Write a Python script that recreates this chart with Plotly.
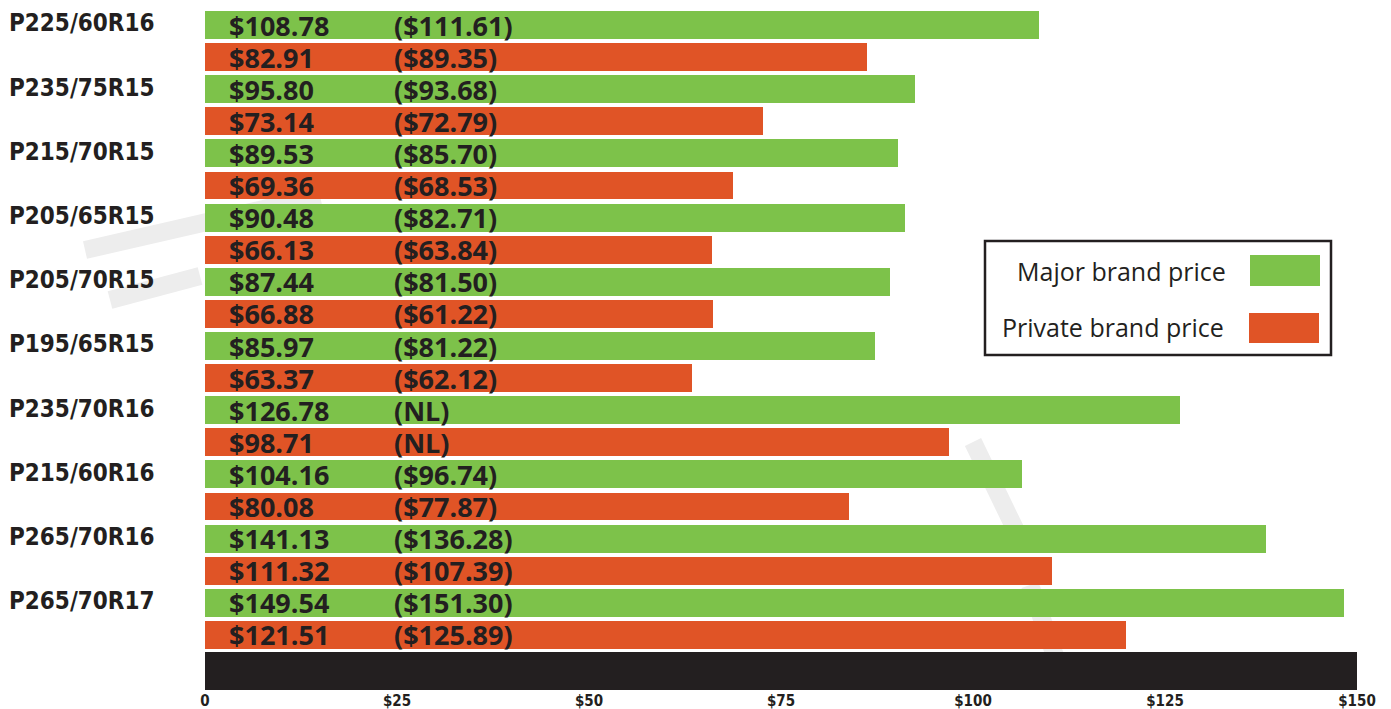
import plotly.graph_objects as go

# tyre sizes, top to bottom
sizes = ["P225/60R16", "P235/75R15", "P215/70R15", "P205/65R15", "P205/70R15",
         "P195/65R15", "P235/70R16", "P215/60R16", "P265/70R16", "P265/70R17"]

# printed prices (current) and previous prices in brackets
major_price = ["$108.78", "$95.80", "$89.53", "$90.48", "$87.44",
               "$85.97", "$126.78", "$104.16", "$141.13", "$149.54"]
major_prev = ["($111.61)", "($93.68)", "($85.70)", "($82.71)", "($81.50)",
              "($81.22)", "(NL)", "($96.74)", "($136.28)", "($151.30)"]
private_price = ["$82.91", "$73.14", "$69.36", "$66.13", "$66.88",
                 "$63.37", "$98.71", "$80.08", "$111.32", "$121.51"]
private_prev = ["($89.35)", "($72.79)", "($68.53)", "($63.84)", "($61.22)",
                "($62.12)", "(NL)", "($77.87)", "($107.39)", "($125.89)"]

# bar lengths as drawn in the picture (dollars)
major_bar = [108.6, 92.5, 90.2, 91.2, 89.2, 87.3, 127.0, 106.4, 138.2, 148.3]
private_bar = [86.2, 72.6, 68.7, 66.0, 66.2, 63.4, 96.9, 83.9, 110.3, 119.9]

tick_vals = [0, 25, 50, 75, 100, 125, 150]
tick_text = ["0", "$25", "$50", "$75", "$100", "$125", "$150"]
base_bar = 150

GREEN = "#7dc24a"
RED = "#e05426"
DARK = "#231f20"
BOLD = "Open Sans"
COND = "DejaVu Sans Condensed, DejaVu Sans, sans-serif"

# the page body adds an 8px offset, so the figure is 8px smaller
OFF = 8
W, H = 1391 - OFF, 709 - OFF
ML, MR, MT, MB = 205 - OFF, 34, 0, 19
PW, PH = W - ML - MR, H - MT - MB


def px_x(p):
    return (p - OFF - ML) / PW


def px_y(p):
    return (PH + MT - (p - OFF)) / PH


n = len(sizes)
y_major = [2 * i for i in range(n)]
y_private = [2 * i + 1 for i in range(n)]
y_base = 2 * n + 0.12

fig = go.Figure()

fig.add_trace(go.Bar(
    x=major_bar, y=y_major, orientation="h", width=0.87,
    marker=dict(color=GREEN, line=dict(width=0)), hoverinfo="skip",
    name="Major brand price"
))
fig.add_trace(go.Bar(
    x=private_bar, y=y_private, orientation="h", width=0.87,
    marker=dict(color=RED, line=dict(width=0)), hoverinfo="skip",
    name="Private brand price"
))
fig.add_trace(go.Bar(
    x=[base_bar], y=[y_base], orientation="h", width=1.18,
    marker=dict(color=DARK, line=dict(width=0)), hoverinfo="skip"
))

# labels inside the bars
for i in range(n):
    for y, cur, prev in [(y_major[i], major_price[i], major_prev[i]),
                         (y_private[i], private_price[i], private_prev[i])]:
        fig.add_annotation(x=2.8, y=y, text="<b>%s</b>" % cur, showarrow=False,
                           xanchor="left", yanchor="middle",
                           font=dict(family=BOLD, size=27, color=DARK))
        fig.add_annotation(x=24.4, y=y, text="<b>%s</b>" % prev, showarrow=False,
                           xanchor="left", yanchor="middle",
                           font=dict(family=BOLD, size=27, color=DARK))
    # tyre size on the left
    fig.add_annotation(xref="paper", x=px_x(7), y=y_major[i] - 0.05,
                       text="<b>%s</b>" % sizes[i], showarrow=False,
                       xanchor="left", yanchor="middle",
                       font=dict(family=COND, size=24, color=DARK))

# faint watermark strokes behind the bars
wm = dict(color="#ededed", width=18)
for (x0, y0, x1, y1) in [(85, 250, 320, 196), (110, 300, 200, 276),
                         (973, 442, 1017, 533), (1030, 585, 1060, 670)]:
    fig.add_shape(type="line", xref="paper", yref="paper",
                  x0=px_x(x0), y0=px_y(y0), x1=px_x(x1), y1=px_y(y1),
                  line=wm, layer="below")

# legend box drawn by hand (swatches on the right)
fig.add_shape(type="rect", xref="paper", yref="paper",
              x0=px_x(985), y0=px_y(355), x1=px_x(1331), y1=px_y(241),
              line=dict(color=DARK, width=2.5), fillcolor="white")
fig.add_shape(type="rect", xref="paper", yref="paper",
              x0=px_x(1250), y0=px_y(286), x1=px_x(1320), y1=px_y(255),
              line=dict(width=0), fillcolor=GREEN)
fig.add_shape(type="rect", xref="paper", yref="paper",
              x0=px_x(1249), y0=px_y(343), x1=px_x(1319), y1=px_y(313),
              line=dict(width=0), fillcolor=RED)
fig.add_annotation(xref="paper", yref="paper", x=px_x(1228), y=px_y(271),
                   text="Major brand price", showarrow=False,
                   xanchor="right", yanchor="middle",
                   font=dict(family="Open Sans", size=25, color=DARK))
fig.add_annotation(xref="paper", yref="paper", x=px_x(1226), y=px_y(327),
                   text="Private brand price", showarrow=False,
                   xanchor="right", yanchor="middle",
                   font=dict(family="Open Sans", size=25, color=DARK))

fig.update_layout(
    width=W, height=H,
    margin=dict(l=ML, r=MR, t=MT, b=MB),
    paper_bgcolor="white", plot_bgcolor="white",
    showlegend=False, bargap=0,
    xaxis=dict(range=[0, 150], tickvals=tick_vals, ticktext=tick_text,
               showgrid=False, zeroline=False, showline=False, ticks="",
               tickfont=dict(family=COND, size=15, color=DARK, weight="bold"),
               fixedrange=True),
    # top edge of the plot sits at reference pixel 8
    yaxis=dict(range=[2 * n + 0.716, -0.53], visible=False, fixedrange=True),
)

fig.write_html("out.html")
